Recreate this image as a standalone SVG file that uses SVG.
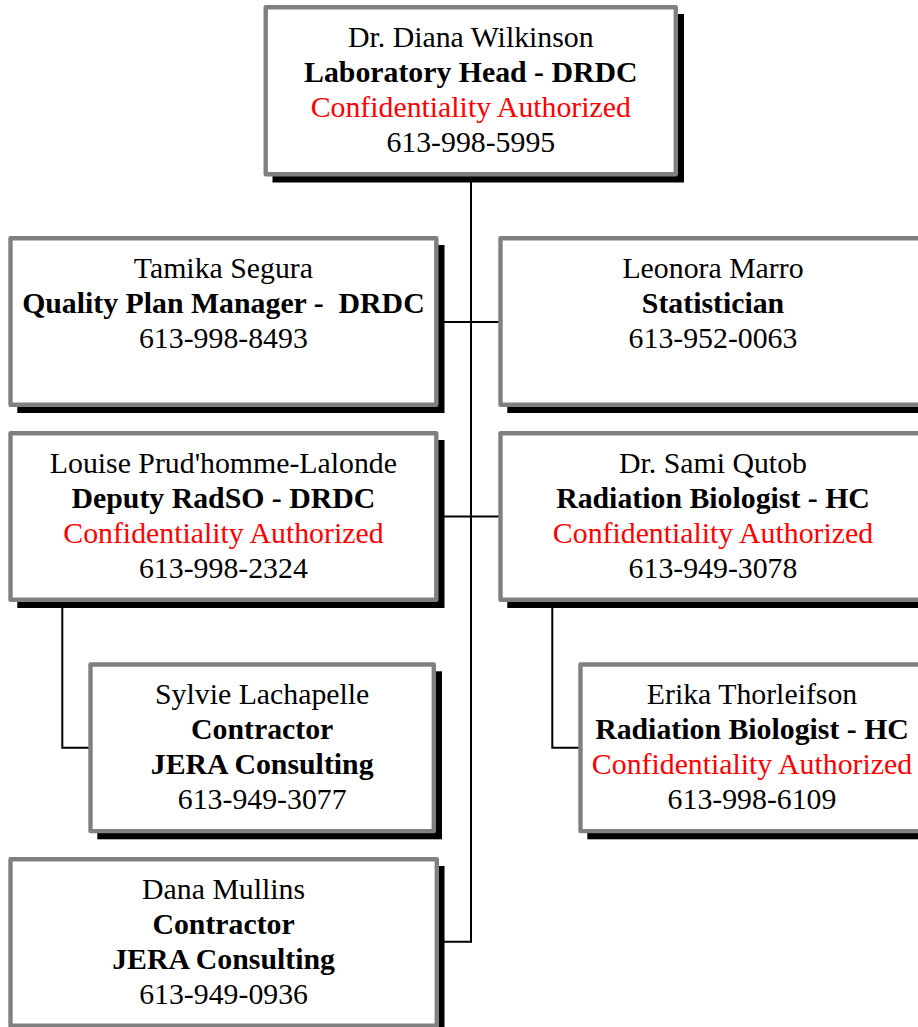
<svg xmlns="http://www.w3.org/2000/svg" width="918" height="1027" viewBox="0 0 918 1027">
<style>
.sh{fill:#000000}
.bx{fill:#ffffff;stroke:#808080;stroke-width:4.4;stroke-linejoin:round}
text{font-family:"Liberation Serif","Times New Roman",serif;font-size:29.8px;fill:#000000;text-anchor:middle}
.b{font-weight:bold}
.r{fill:#ff0000}
.cn{fill:none;stroke:#000000;stroke-width:2}
</style>
<rect width="918" height="1027" fill="#ffffff"/>
<g id="connectors">
<line class="cn" x1="471" y1="176" x2="471" y2="942.5"/>
<line class="cn" x1="438" y1="322" x2="499" y2="322"/>
<line class="cn" x1="438" y1="516.5" x2="499" y2="516.5"/>
<line class="cn" x1="438" y1="941.7" x2="472" y2="941.7"/>
<polyline class="cn" points="62.3,602 62.3,747.7 89,747.7"/>
<polyline class="cn" points="552.3,602 552.3,747.7 579,747.7"/>
</g>
<g id="node-wilkinson">
<rect class="sh" x="272.5" y="14" width="411.5" height="168.5"/>
<rect class="bx" x="265.7" y="7.2" width="410.1" height="167.1"/>
<text x="470.8" y="47">Dr. Diana Wilkinson</text>
<text class="b" x="470.8" y="82">Laboratory Head - DRDC</text>
<text class="r" x="470.8" y="117">Confidentiality Authorized</text>
<text x="470.8" y="152">613-998-5995</text>
</g>
<g id="node-segura">
<rect class="sh" x="17.3" y="245" width="427.2" height="168"/>
<rect class="bx" x="10.5" y="238.2" width="425.8" height="166.6"/>
<text x="223.4" y="278">Tamika Segura</text>
<text class="b" x="223.4" y="313" xml:space="preserve">Quality Plan Manager -  DRDC</text>
<text x="223.4" y="348">613-998-8493</text>
</g>
<g id="node-marro">
<rect class="sh" x="507.3" y="245" width="427.2" height="168"/>
<rect class="bx" x="500.5" y="238.2" width="425.8" height="166.6"/>
<text x="713" y="278">Leonora Marro</text>
<text class="b" x="713" y="313">Statistician</text>
<text x="713" y="348">613-952-0063</text>
</g>
<g id="node-prudhomme">
<rect class="sh" x="17.3" y="440" width="427.2" height="168"/>
<rect class="bx" x="10.5" y="433.2" width="425.8" height="166.6"/>
<text x="223.4" y="473">Louise Prud'homme-Lalonde</text>
<text class="b" x="223.4" y="508">Deputy RadSO - DRDC</text>
<text class="r" x="223.4" y="543">Confidentiality Authorized</text>
<text x="223.4" y="578">613-998-2324</text>
</g>
<g id="node-qutob">
<rect class="sh" x="507.3" y="440" width="427.2" height="168"/>
<rect class="bx" x="500.5" y="433.2" width="425.8" height="166.6"/>
<text x="713" y="473">Dr. Sami Qutob</text>
<text class="b" x="713" y="508">Radiation Biologist - HC</text>
<text class="r" x="713" y="543">Confidentiality Authorized</text>
<text x="713" y="578">613-949-3078</text>
</g>
<g id="node-lachapelle">
<rect class="sh" x="97.3" y="671.3" width="344.7" height="168"/>
<rect class="bx" x="90.5" y="664.5" width="343.3" height="166.6"/>
<text x="262.2" y="704.3">Sylvie Lachapelle</text>
<text class="b" x="262.2" y="739.3">Contractor</text>
<text class="b" x="262.2" y="774.3">JERA Consulting</text>
<text x="262.2" y="809.3">613-949-3077</text>
</g>
<g id="node-thorleifson">
<rect class="sh" x="587.3" y="671.3" width="344.4" height="168"/>
<rect class="bx" x="580.5" y="664.5" width="343" height="166.6"/>
<text x="752" y="704.3">Erika Thorleifson</text>
<text class="b" x="752" y="739.3">Radiation Biologist - HC</text>
<text class="r" x="752" y="774.3">Confidentiality Authorized</text>
<text x="752" y="809.3">613-998-6109</text>
</g>
<g id="node-mullins">
<rect class="sh" x="17.3" y="866" width="427.2" height="168"/>
<rect class="bx" x="10.5" y="859.2" width="426.3" height="166.6"/>
<text x="223.6" y="899">Dana Mullins</text>
<text class="b" x="223.6" y="934">Contractor</text>
<text class="b" x="223.6" y="969">JERA Consulting</text>
<text x="223.6" y="1004">613-949-0936</text>
</g>
</svg>
